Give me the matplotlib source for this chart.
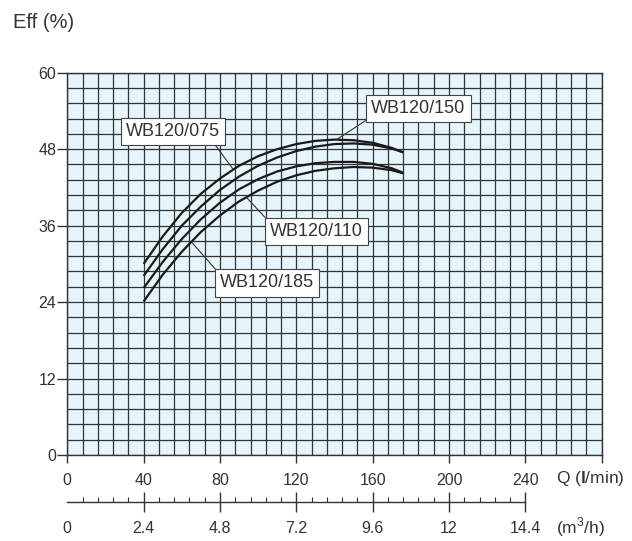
import numpy as np
import matplotlib
matplotlib.use("Agg")
import matplotlib.pyplot as plt
from matplotlib.ticker import MultipleLocator, FixedLocator, FixedFormatter

plt.rcParams['font.family'] = ['Liberation Sans', 'DejaVu Sans']
plt.rcParams['mathtext.fontset'] = 'custom'
plt.rcParams['mathtext.rm'] = 'Liberation Sans'
plt.rcParams['mathtext.bf'] = 'Liberation Sans:bold'

# ---- data ----
flow_lmin = [40, 50, 60, 70, 80, 90, 100, 110, 120, 130, 140, 150, 160, 170, 176]
eff_a = [30.0, 34.3, 38.0, 41.0, 43.4, 45.4, 46.9, 48.0, 48.8, 49.3, 49.5, 49.4, 49.0, 48.2, 47.5]
eff_b = [28.1, 32.3, 36.0, 39.0, 41.6, 43.7, 45.4, 46.7, 47.7, 48.4, 48.8, 48.9, 48.7, 48.1, 47.5]
eff_c = [26.2, 30.3, 33.9, 37.0, 39.6, 41.7, 43.3, 44.5, 45.3, 45.8, 46.0, 46.0, 45.7, 45.0, 44.3]
eff_d = [24.1, 28.3, 31.9, 35.0, 37.6, 39.8, 41.5, 42.9, 43.9, 44.6, 45.0, 45.2, 45.1, 44.7, 44.2]

model_names = ["WB120/075", "WB120/150", "WB120/110", "WB120/185"]
x_ticks = [0, 40, 80, 120, 160, 200, 240, 280]
x_ticklabels = ["0", "40", "80", "120", "160", "200", "240", ""]
y_ticks = [0, 12, 24, 36, 48, 60]
m3h_ticks = [0, 2.4, 4.8, 7.2, 9.6, 12, 14.4]
m3h_ticklabels = ["0", "2.4", "4.8", "7.2", "9.6", "12", "14.4"]

TXT = '#333333'
GRID = '#333333'

fig = plt.figure(figsize=(6.32, 5.41), dpi=100)
ax = fig.add_axes([67.3/632, 1-455/541, (601.7-67.3)/632, (455-72.7)/541])
ax.set_facecolor('#e6f5fc')
ax.set_xlim(0, 280)
ax.set_ylim(0, 60)

ax.xaxis.set_major_locator(FixedLocator(x_ticks))
ax.xaxis.set_major_formatter(FixedFormatter(x_ticklabels))
ax.yaxis.set_major_locator(FixedLocator(y_ticks))
ax.xaxis.set_minor_locator(MultipleLocator(8))
ax.yaxis.set_minor_locator(MultipleLocator(2.4))
ax.grid(True, which='both', color=GRID, lw=0.9)
ax.set_axisbelow(True)
ax.tick_params(which='minor', length=0)
ax.tick_params(axis='x', which='major', direction='out', length=6, width=1.0,
               color=GRID, labelsize=11.5, labelcolor=TXT, pad=7)
ax.tick_params(axis='y', which='major', direction='out', length=7, width=1.0,
               color=GRID, labelsize=11.5, labelcolor=TXT, pad=1)
for s in ax.spines.values():
    s.set_color(GRID)
    s.set_linewidth(1.0)

for series in (eff_a, eff_b, eff_c, eff_d):
    ax.plot(flow_lmin, series, color='#1a1a1a', lw=1.6, solid_capstyle='butt')

# labels: (name, box center, target Q, curve, relpos)
label_specs = [
    (model_names[0], (55.3, 50.8), 87.0, eff_a, (0.91, 0.0)),
    (model_names[1], (184.0, 54.4), 141.0, eff_a, (0.0, 0.0)),
    (model_names[2], (130.6, 35.1), 93.8, eff_d, (0.0, 1.0)),
    (model_names[3], (104.7, 27.0), 65.0, eff_d, (0.0, 1.0)),
]
for name, (bx, by), tq, curve, rp in label_specs:
    ty = float(np.interp(tq, flow_lmin, curve))
    ax.annotate(name, xy=(tq, ty), xytext=(bx, by), ha='center', va='center',
                fontsize=13, color=TXT,
                bbox=dict(boxstyle='square,pad=0.28', fc='white', ec='#444444', lw=0.8),
                arrowprops=dict(arrowstyle='-', color='#333333', lw=0.8,
                                shrinkA=0, shrinkB=0, relpos=rp))

fig.text(13/632, 1-23/541, "Eff (%)", fontsize=14.5, color=TXT, ha='left', va='center')
fig.text(556/632, 1-478/541, r"Q ($\mathbf{l}$/min)", fontsize=12.5, color=TXT,
         ha='left', va='center')

# secondary m3/h scale
ax2 = fig.add_axes([67.3/632, 1-501.7/541, (601.7-67.3)/632, 0.01])
ax2.patch.set_visible(False)
ax2.set_xlim(0, 280*0.06)
ax2.set_ylim(0, 1)
for k in ('top', 'left', 'right'):
    ax2.spines[k].set_visible(False)
ax2.spines['bottom'].set_bounds(0, 14.4)
ax2.spines['bottom'].set_color(GRID)
ax2.spines['bottom'].set_linewidth(1.0)
ax2.set_yticks([])
ax2.xaxis.set_major_locator(FixedLocator(m3h_ticks))
ax2.xaxis.set_major_formatter(FixedFormatter(m3h_ticklabels))
minor_pos = [v for v in np.arange(0, 14.4 + 1e-6, 0.48)]
ax2.xaxis.set_minor_locator(FixedLocator(minor_pos))
ax2.tick_params(axis='x', which='major', direction='inout', length=14, width=1.0,
                color=GRID, labelsize=11.5, labelcolor=TXT, pad=7)
ax2.tick_params(axis='x', which='minor', direction='in', length=3.5, width=0.8, color=GRID)
ticks = ax2.xaxis.get_major_ticks()
ticks[0].tick1line.set_visible(False)
fig.text(556/632, 1-527/541, r"(m$^3$/h)", fontsize=12.5, color=TXT, ha='left', va='center')

fig.savefig("out.png", dpi=100)
